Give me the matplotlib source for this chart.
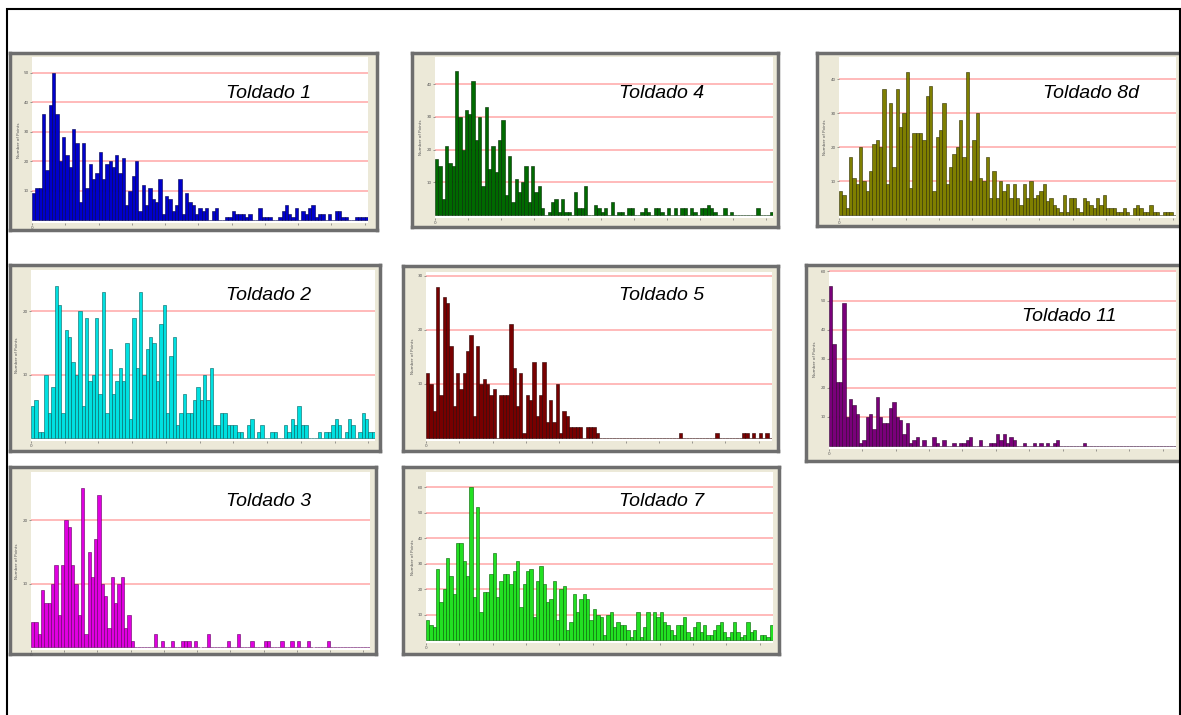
import numpy as np
import matplotlib
matplotlib.use("Agg")
import matplotlib.pyplot as plt
from matplotlib.patches import Rectangle

W, H = 1181, 715

# bar heights (gridline spacing = 10)
t1 = [9, 11, 11, 36, 17, 39, 50, 36, 20, 28, 22, 18, 31, 26, 6, 26, 11, 19, 14, 16,
      23, 14, 19, 20, 18, 22, 16, 21, 5, 10, 15, 20, 3, 12, 5, 11, 7, 6, 14, 2,
      8, 7, 3, 5, 14, 2, 9, 6, 5, 2, 4, 3, 4, 0, 3, 4, 0, 0, 1, 1,
      3, 2, 2, 2, 1, 2, 0, 0, 4, 1, 1, 1, 0, 0, 1, 3, 5, 2, 1, 4,
      0, 3, 2, 4, 5, 1, 2, 2, 0, 2, 0, 3, 3, 1, 1, 0, 0, 1, 1, 1, 1]
t4 = [17, 15, 5, 21, 16, 15, 44, 30, 20, 32, 31, 41, 23, 30, 9, 33, 14, 21, 13, 23,
      29, 6, 18, 4, 11, 7, 10, 15, 4, 15, 7, 9, 2, 0, 1, 4, 5, 1, 5, 1,
      1, 0, 7, 2, 2, 9, 0, 0, 3, 2, 1, 2, 0, 4, 0, 1, 1, 0, 2, 2,
      0, 0, 1, 2, 1, 0, 2, 2, 1, 0, 2, 0, 2, 0, 2, 2, 0, 2, 1, 0,
      2, 2, 3, 2, 1, 0, 0, 2, 0, 1, 0, 0, 0, 0, 0, 0, 0, 2, 0, 0, 0, 1]
t8d = [7, 6, 2, 17, 11, 9, 20, 10, 7, 13, 21, 22, 20, 37, 9, 33, 14, 37, 26, 30,
       42, 8, 24, 24, 24, 22, 35, 38, 7, 23, 25, 33, 9, 14, 18, 20, 28, 17, 42, 10,
       22, 30, 11, 10, 17, 5, 13, 5, 10, 7, 9, 5, 9, 5, 3, 9, 5, 10, 5, 6,
       7, 9, 4, 5, 3, 2, 1, 6, 1, 5, 5, 2, 1, 5, 4, 3, 2, 5, 3, 6,
       2, 2, 2, 1, 1, 2, 1, 0, 2, 3, 2, 1, 1, 3, 1, 1, 0, 1, 1, 1, 0]
t2 = [5, 6, 1, 1, 10, 4, 8, 24, 21, 4, 17, 16, 12, 10, 20, 5, 19, 9, 10, 19,
      7, 23, 4, 14, 7, 9, 11, 9, 15, 3, 19, 11, 23, 10, 14, 16, 15, 9, 18, 21,
      4, 13, 16, 2, 4, 7, 4, 4, 6, 8, 6, 10, 6, 11, 2, 2, 4, 4, 2, 2,
      2, 1, 1, 0, 2, 3, 0, 1, 2, 0, 0, 1, 1, 0, 0, 2, 1, 3, 2, 5,
      2, 2, 0, 0, 0, 1, 0, 1, 1, 2, 3, 2, 0, 1, 3, 2, 0, 1, 4, 3, 1, 1]
t5 = [12, 10, 5, 28, 8, 26, 25, 17, 6, 12, 9, 12, 16, 19, 4, 17, 10, 11, 10, 8,
      9, 0, 8, 8, 8, 21, 13, 6, 12, 1, 8, 7, 14, 4, 8, 14, 3, 7, 3, 10,
      1, 5, 4, 2, 2, 2, 2, 0, 2, 2, 2, 1, 0, 0, 0, 0, 0, 0, 0, 0,
      0, 0, 0, 0, 0, 0, 0, 0, 0, 0, 0, 0, 0, 0, 0, 0, 1, 0, 0, 0,
      0, 0, 0, 0, 0, 0, 0, 1, 0, 0, 0, 0, 0, 0, 0, 1, 1, 0, 1, 0, 1, 0, 1, 0]
t11 = [55, 35, 22, 22, 49, 10, 16, 14, 11, 1, 2, 10, 11, 6, 17, 10, 8, 8, 13, 15,
       10, 9, 4, 8, 1, 2, 3, 0, 2, 0, 0, 3, 1, 0, 2, 0, 0, 1, 0, 1,
       1, 2, 3, 0, 0, 2, 0, 0, 1, 1, 4, 2, 4, 1, 3, 2, 0, 0, 1, 0,
       0, 1, 0, 1, 0, 1, 0, 1, 2, 0, 0, 0, 0, 0, 0, 0, 1, 0, 0, 0,
       0, 0, 0, 0, 0, 0, 0, 0, 0, 0, 0, 0, 0, 0, 0, 0, 0, 0, 0, 0, 0, 0, 0, 0]
t3 = [4, 4, 2, 9, 7, 7, 10, 13, 5, 13, 20, 19, 13, 10, 5, 25, 2, 15, 11, 17,
      24, 10, 8, 3, 11, 7, 10, 11, 3, 5, 1, 0, 0, 0, 0, 0, 0, 2, 0, 1,
      0, 0, 1, 0, 0, 1, 1, 1, 0, 1, 0, 0, 0, 2, 0, 0, 0, 0, 0, 1,
      0, 0, 2, 0, 0, 0, 1, 0, 0, 0, 1, 1, 0, 0, 0, 1, 0, 0, 1, 0,
      1, 0, 0, 1, 0, 0, 0, 0, 0, 1, 0, 0, 0, 0, 0, 0, 0, 0, 0, 0, 0, 0]
t7 = [8, 6, 5, 28, 15, 20, 32, 25, 18, 38, 38, 31, 25, 60, 17, 52, 11, 19, 19, 26,
      34, 17, 23, 26, 26, 22, 27, 31, 13, 22, 27, 28, 9, 23, 29, 22, 15, 16, 23, 8,
      20, 21, 4, 7, 18, 11, 16, 18, 16, 8, 12, 10, 9, 2, 10, 11, 5, 7, 6, 6,
      4, 1, 4, 11, 1, 5, 11, 0, 11, 9, 11, 7, 6, 4, 2, 6, 6, 9, 3, 1,
      5, 7, 3, 6, 2, 2, 4, 6, 7, 3, 1, 3, 7, 3, 1, 2, 7, 3, 4, 0, 2, 2, 1, 6]

titles = ["Toldado 1", "Toldado 4", "Toldado 8d", "Toldado 2",
          "Toldado 5", "Toldado 11", "Toldado 3", "Toldado 7"]
series = [t1, t4, t8d, t2, t5, t11, t3, t7]
colors = ["#0000cc", "#006a00", "#7f7f00", "#00e0e0",
          "#780000", "#7a007a", "#e000e0", "#22e022"]
edges = ["#00004a", "#002800", "#2e2e00", "#006060",
         "#2a0000", "#2e002e", "#600060", "#006000"]
ymaxs = [55.3, 48.3, 46.5, 26.5, 30.7, 60.5, 27.6, 65.9]

# layout in pixels: frame box, plot box (left, top, right, baseline), title centre
frames = [(10, 53, 377, 230), (412, 53, 778, 227), (817, 53, 1183, 226),
          (10, 265, 380, 451), (403, 266, 778, 451), (806, 265, 1183, 461),
          (10, 467, 376, 654), (403, 467, 779, 654)]
plots = [(32, 57, 368, 220), (435, 57, 773, 215), (839, 57, 1176, 215),
         (31, 270, 375, 438), (426, 272, 772, 438), (829, 270, 1176, 446),
         (31, 472, 370, 647), (426, 472, 773, 640)]
title_xy = [(269, 94), (662, 94), (1091, 94), (269, 296),
            (662, 296), (1069, 316), (269, 502), (662, 502)]


def box(x0, y0, x1, y1):
    return [x0 / W, 1 - y1 / H, (x1 - x0) / W, (y1 - y0) / H]


fig = plt.figure(figsize=(W / 100, H / 100), dpi=100)
fig.patch.set_facecolor("white")

# outer black frame
fig.add_artist(Rectangle((7 / W, -0.05), (1180 - 7) / W, 1.05 - 9 / H,
                         transform=fig.transFigure, fill=False,
                         edgecolor="black", lw=1.5))

for i in range(8):
    fx0, fy0, fx1, fy1 = frames[i]
    fa = fig.add_axes(box(fx0, fy0, fx1, fy1))
    fa.set_facecolor("#ece9d8")
    fa.set_xticks([])
    fa.set_yticks([])
    for s in fa.spines.values():
        s.set_color("#6e6e6e")
        s.set_linewidth(2.5)

    px0, py0, px1, pb = plots[i]
    ymax = ymaxs[i]
    ppu = (pb - py0) / ymax
    ax = fig.add_axes(box(px0, py0, px1, pb + 3))
    ax.set_facecolor("white")
    vals = series[i]
    n = len(vals)
    ax.bar(np.arange(n), vals, width=1.0, align="edge",
           color=colors[i], edgecolor=edges[i], linewidth=0.4, zorder=3)
    ax.set_xlim(0, n)
    ax.set_ylim(-3 / ppu, ymax)
    ax.set_yticks(np.arange(10, ymax, 10))
    ax.set_yticklabels([str(int(v)) for v in np.arange(10, ymax, 10)])
    ax.yaxis.grid(True, color="#ffb4b4", lw=1.3, zorder=0)
    ax.set_xticks(np.arange(0, n, 10))
    ax.set_xticklabels(["0"] + [""] * (len(np.arange(0, n, 10)) - 1))
    ax.tick_params(axis="both", labelsize=3, length=1.5, width=0.4,
                   colors="#555555", pad=1)
    for s in ax.spines.values():
        s.set_visible(False)
    ax.set_ylabel("Number of Points", fontsize=3, color="#555555", labelpad=2)

    tx, ty = title_xy[i]
    fig.text(tx / W, 1 - ty / H, titles[i], fontsize=14, style="italic",
             family="Liberation Sans", ha="center", va="center", color="black")

fig.savefig("out.png", dpi=100)
